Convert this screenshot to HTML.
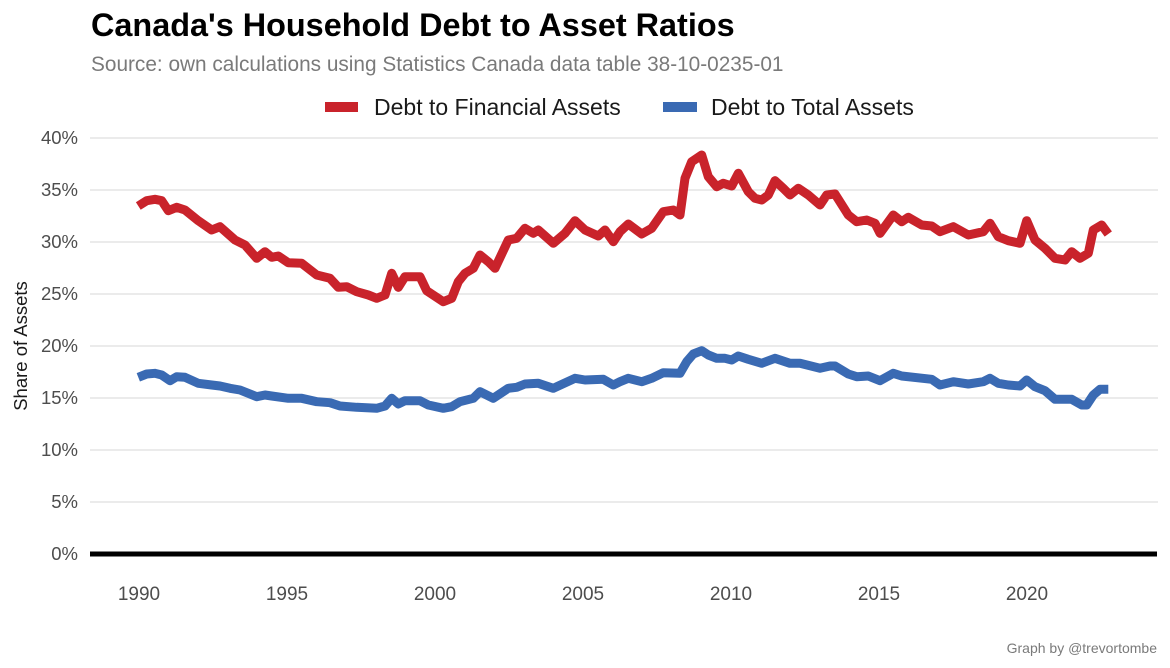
<!DOCTYPE html>
<html><head><meta charset="utf-8"><style>
body{margin:0;background:#fff;}
svg{display:block;font-family:"Liberation Sans",Arial,sans-serif;}
</style></head><body>
<svg width="1170" height="668" viewBox="0 0 1170 668">
<text x="91" y="36" font-size="32.4" font-weight="bold" fill="#000">Canada's Household Debt to Asset Ratios</text>
<text x="91" y="71" font-size="20.8" fill="#7a7a7a">Source: own calculations using Statistics Canada data table 38-10-0235-01</text>
<rect x="325" y="102" width="33" height="10" fill="#c9232b"/>
<text x="374" y="115" font-size="23" fill="#1a1a1a">Debt to Financial Assets</text>
<rect x="663" y="102" width="34" height="10" fill="#3a6ab3"/>
<text x="711" y="115" font-size="23" fill="#1a1a1a">Debt to Total Assets</text>
<g stroke="#ebebeb" stroke-width="2">
<line x1="90" x2="1158" y1="138" y2="138"/><line x1="90" x2="1158" y1="190" y2="190"/>
<line x1="90" x2="1158" y1="242" y2="242"/><line x1="90" x2="1158" y1="294" y2="294"/>
<line x1="90" x2="1158" y1="346" y2="346"/><line x1="90" x2="1158" y1="398" y2="398"/>
<line x1="90" x2="1158" y1="450" y2="450"/><line x1="90" x2="1158" y1="502" y2="502"/>
</g>
<g font-size="18.5" fill="#4d4d4d" text-anchor="end">
<text x="78" y="144">40%</text><text x="78" y="196">35%</text><text x="78" y="248">30%</text>
<text x="78" y="300">25%</text><text x="78" y="352">20%</text><text x="78" y="404">15%</text>
<text x="78" y="456">10%</text><text x="78" y="508">5%</text><text x="78" y="560">0%</text>
</g>
<text transform="translate(27,346) rotate(-90)" font-size="18.5" fill="#1a1a1a" text-anchor="middle">Share of Assets</text>
<line x1="90" x2="1157" y1="554" y2="554" stroke="#000" stroke-width="5"/>
<g font-size="19" fill="#4d4d4d" text-anchor="middle">
<text x="139" y="600">1990</text><text x="287" y="600">1995</text><text x="435" y="600">2000</text>
<text x="583" y="600">2005</text><text x="731" y="600">2010</text><text x="879" y="600">2015</text>
<text x="1027" y="600">2020</text>
</g>
<text x="1157" y="653" font-size="14" fill="#7a7a7a" text-anchor="end">Graph by @trevortombe</text>
<polyline fill="none" stroke="#c9232b" stroke-width="9" stroke-linejoin="round" points="138.3,206 146.7,200.7 155,199.3 161.7,200.7 168.3,210.7 176.7,207.3 185,210 198.3,220.7 211.7,230 220,226.7 235,240 245,245 256.7,258.3 265,251.7 271.7,257.3 278.3,256 288.3,262.7 301.7,263.3 316.7,275 330,278.3 338.3,287.3 346.7,286.7 356.7,291.7 368.3,295 376.7,298.3 385,295 391.7,273.3 398.3,287.3 405,276.7 420,276.7 426.7,290.7 443.3,301.7 451.7,298.3 458.3,281.7 465,273.3 473.3,268.3 480,255 488.3,261.7 495,268.3 508.3,240 516.7,238.3 525,228.3 533.3,233.3 538.3,230 553.3,243.3 565,233.3 575,220.7 585,230 598.3,236 605,230 613.3,241.7 620,231.7 628.3,224 641.7,234 651.7,228.3 663.3,211.7 673.3,210 680,215 685,178.3 691.7,161.7 701.7,155 708.3,176.7 716.7,186.7 723.3,183.3 731.7,186 738.3,173.3 748.3,191.7 755,198.3 761.7,200 768.3,195 775,180.7 783.3,188.3 790,195 798.3,188.3 808.3,195 820,205 826.7,195 835,194 848.3,215 856.7,221.7 866.7,220 875,223.3 880,233.3 893.3,215 901.7,221.7 908.3,217.3 921.7,225 931.7,226 940,231.7 953.3,226.7 968.3,235 983.3,231.7 990,223.3 998.3,236.7 1008.3,240.7 1020,243.3 1026.7,220.7 1035,240 1045,248.3 1055,258.3 1065,260 1071.7,251.7 1080,258.3 1088.3,253.3 1093.3,230 1101.7,225 1108.3,234"/>
<polyline fill="none" stroke="#3a6ab3" stroke-width="9" stroke-linejoin="round" points="138.3,377.3 146.7,374 155,373.3 161.7,375 170,380.7 176.7,376.7 185,377.3 198.3,383.3 211.7,385 220,386 230,388.3 240,390 256.7,396.7 265,395 271.7,396 288.3,398.3 301.7,398.3 316.7,401.7 330,402.7 340,406 356.7,407.3 376.7,408.3 385,406 391.7,398.3 398.3,404 405,400.7 420,400.7 428.3,405 443.3,408.3 451.7,406.7 460,401.7 473.3,398.3 480,391.7 493.3,398.3 508.3,388.3 516.7,387.3 525,384 538.3,383.3 553.3,388.3 575,378.3 585,380 603.3,379.3 613.3,385 620,381.7 628.3,378.3 641.7,381.7 651.7,378.3 663.3,372.7 680,373.3 686.7,361.7 693.3,354 701.7,350.7 708.3,355 716.7,358.3 725,358.3 731.7,360 738.3,356 748.3,359.3 761.7,363.3 775,358.3 790,363.3 800,363.3 820,368.3 830,366 835,366 848.3,374 856.7,376.7 868.3,376 880,380.7 893.3,373.3 901.7,376 931.7,379.3 940,385 953.3,381.7 968.3,384 983.3,381.7 990,378.3 998.3,383.3 1008.3,385 1020,386 1026.7,380 1035,386.7 1045,390.7 1055,399.3 1071.7,399.3 1081.7,405 1086.7,405 1093.3,395 1100,389.3 1108.3,389.3"/>
</svg>
</body></html>
